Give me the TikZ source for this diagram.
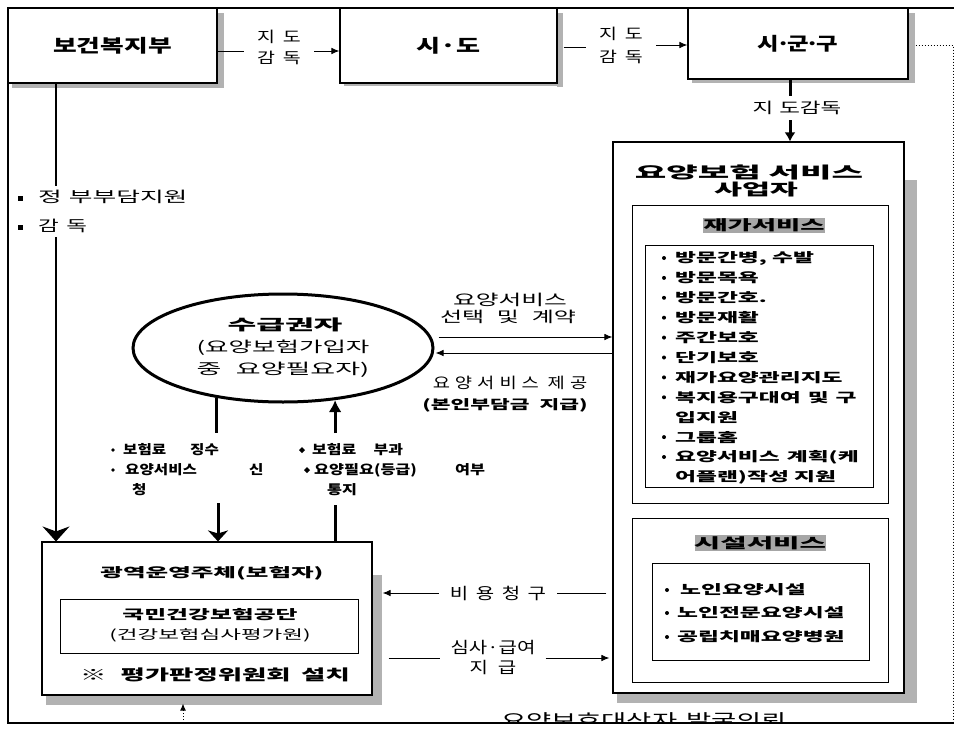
\documentclass[tikz,border=0pt]{standalone}
\usepackage{fontspec}
\usepackage{graphicx}
\setmainfont{Noto Sans CJK KR}
\usetikzlibrary{arrows.meta,shapes.geometric}
\newcommand\SX[2]{\scalebox{#1}[1]{#2}}
\newcommand\fs[2]{\fontsize{#1}{#2}\selectfont}
\newcommand\gp{\hspace{4pt}}
\newcommand\dt{\kern-2.5pt·\kern-2.5pt}
\begin{document}
\begin{tikzpicture}[x=1pt,y=-1pt,
  box/.style={draw,line width=1.1pt,fill=white,inner sep=0pt},
  ibox/.style={draw,line width=0.9pt,fill=white,inner sep=0pt},
  shad/.style={fill=black!30},
  txt/.style={inner sep=0pt,align=center},
  arr/.style={line width=0.9pt,-{Latex[length=8pt,width=6.5pt]}},
  ln/.style={line width=0.9pt},
  heavy/.style={line width=3pt},
  frame/.style={line width=1.6pt},
  item/.style={anchor=west,inner sep=0pt,font=\fs{13}{13}\bfseries},
  lab/.style={anchor=west,inner sep=0pt,font=\fs{13}{13}\bfseries}
]
\useasboundingbox (0,0) rectangle (954,736);
\fill[white] (0,0) rectangle (954,736);

% outer frame
\draw[frame] (954,8) -- (8,8) -- (8,723) -- (954,723);

% shadows
\fill[shad] (217,13) rectangle (224,88);
\fill[shad] (12,83) rectangle (224,88);
\fill[shad] (557,13) rectangle (563,87);
\fill[shad] (344,83) rectangle (563,86);
\fill[shad] (908,13) rectangle (915,83);
\fill[shad] (692,79) rectangle (915,83);
\fill[shad] (904,180) rectangle (917,703);
\fill[shad] (617,693) rectangle (917,703);
\fill[shad] (372,575) rectangle (382,705);
\fill[shad] (46,695) rectangle (382,705);

% top boxes
\node[box,minimum width=209,minimum height=75,font=\fs{18}{20}\bfseries] (bok) at (112.5,45.5) {\SX{1.43}{보건복지부}};
\node[box,minimum width=217,minimum height=75,font=\fs{18}{20}\bfseries] (sido) at (448.5,45.5) {\SX{1.45}{시·도}};
\node[box,minimum width=220,minimum height=71,font=\fs{18}{20}\bfseries] (sgg) at (798,43.5) {\SX{1.3}{시\dt 군\dt 구}};

% labels between top boxes
\node[txt,font=\fs{15}{21},inner xsep=13pt] (l1) at (279,47) {\SX{1.3}{지\hspace{6pt}도}\\\SX{1.3}{감\hspace{6pt}독}};
\draw[ln] ([yshift=-5.5pt]bok.east) -- ([yshift=-5.5pt]bok.east -| l1.west);
\draw[arr] ([yshift=-5.5pt]sido.west -| l1.east) -- ([yshift=-5.5pt]sido.west);

\node[txt,font=\fs{15}{23},inner xsep=13pt] (l2) at (621,45) {\SX{1.3}{지\hspace{6pt}도}\\\SX{1.3}{감\hspace{6pt}독}};
\draw[ln] ([xshift=6pt,yshift=-1.5pt]sido.east) -- ([yshift=-1.5pt]sido.east -| l2.west);
\draw[arr] ([yshift=-1.5pt]sgg.west -| l2.east) -- ([yshift=-1.5pt]sgg.west);

% service provider box
\node[box,minimum width=291,minimum height=551] (biz) at (758.5,417.5) {};
\node[txt,font=\fs{16}{18}\bfseries] (bizt1) at (749,172) {\SX{2.14}{요양보험 서비스}};
\node[txt,font=\fs{16}{18}\bfseries] (bizt2) at (756,190) {\SX{1.9}{사업자}};

\node[txt,font=\fs{15}{15},inner ysep=5pt] (l3) at (797,108) {\SX{1.5}{지\hspace{4pt}도감독}};
\coordinate (v3) at (790,0);
\draw[heavy] (sgg.south -| v3) -- (l3.north -| v3);
\draw[heavy,-{Latex[length=9pt,width=11pt]}] (l3.south -| v3) -- (biz.north -| v3);

% home services
\node[ibox,minimum width=256,minimum height=298] (jg) at (760,354) {};
\fill[black!35] (703,218) rectangle (825,233);
\node[txt,font=\fs{14}{14}\bfseries] (jgt) at (764,225.5) {\SX{1.88}{재가서비스}};
\node[ibox,minimum width=228,minimum height=242] (jl) at (759,366) {};
\foreach \yy in {258,277.9,297.8,317.7,337.6,357.5,377.4,397.3,437.1,457.0}
  \fill (664,\yy) circle (2);
\node[item] (j1) at (675,258) {\SX{1.75}{방문간병, 수발}};
\node[item] (j2) at (675,277.9) {\SX{1.75}{방문목욕}};
\node[item] (j3) at (675,297.8) {\SX{1.75}{방문간호.}};
\node[item] (j4) at (675,317.7) {\SX{1.75}{방문재활}};
\node[item] (j5) at (675,337.6) {\SX{1.75}{주간보호}};
\node[item] (j6) at (675,357.5) {\SX{1.75}{단기보호}};
\node[item] (j7) at (675,377.4) {\SX{1.75}{재가요양관리지도}};
\node[item] (j8) at (675,397.3) {\SX{1.75}{복지용구대여\hspace{4pt}및\hspace{4pt}구}};
\node[item] (j9) at (675,417.2) {\SX{1.75}{입지원}};
\node[item] (j10) at (675,437.1) {\SX{1.75}{그룹홈}};
\node[item] (j11) at (675,457.0) {\SX{1.75}{요양서비스\hspace{4pt}계획(케}};
\node[item] (j12) at (675,476.9) {\SX{1.75}{어플랜)작성 지원}};

% facility services
\node[ibox,minimum width=256,minimum height=164] (ss) at (760,600) {};
\fill[black!35] (695,535) rectangle (826,551);
\node[txt,font=\fs{14}{14}\bfseries] (sst) at (760,543) {\SX{2.05}{시설서비스}};
\node[ibox,minimum width=217,minimum height=97] (sl) at (760.5,611.5) {};
\foreach \yy in {590,613,637} \fill (667,\yy) circle (2);
\node[item] (s1) at (680,590) {\SX{1.75}{노인요양시설}};
\node[item] (s2) at (677,613) {\SX{1.75}{노인전문요양시설}};
\node[item] (s3) at (677,637) {\SX{1.75}{공립치매요양병원}};

% insurer box
\node[box,minimum width=330,minimum height=153] (gw) at (207,618.5) {};
\node[txt,font=\fs{13}{13}\bfseries] (gwt) at (212,573) {\SX{1.89}{광역운영주체(보험자)}};
\node[ibox,minimum width=298,minimum height=54] (nh) at (209,626) {};
\node[txt,font=\fs{13}{13}\bfseries] (nh1) at (210,615) {\SX{1.83}{국민건강보험공단}};
\node[txt,font=\fs{13}{13}] (nh2) at (210,635) {\SX{1.73}{(건강보험심사평가원)}};
\node[txt,font=\fs{15}{15}\bfseries] (gwn) at (215,675) {\SX{1.76}{※\hspace{8pt}평가판정위원회\hspace{6pt}설치}};

% ministry -> insurer
\coordinate (vl) at (56,0);
\draw[line width=1.1pt,-{Stealth[length=15pt,width=27pt,inset=5pt]}] (bok.south -| vl) -- (gw.north -| vl);
\node[anchor=north west,fill=white,inner xsep=2pt,inner ysep=4pt,align=left,font=\fs{15}{29}] (gov) at (36,186) {\SX{1.72}{정\hspace{4pt}부부담지원}\\\SX{1.5}{감\hspace{5pt}독}};
\fill (17.5,195.5) rectangle (22.5,200.5);
\fill (17.5,224.5) rectangle (22.5,229.5);

% recipient ellipse
\node[ellipse,draw,line width=3pt,fill=white,minimum width=300,minimum height=108,inner sep=0pt] (ell) at (283,348) {};
\node[txt,font=\fs{15}{15}\bfseries] (e0) at (285,325) {\SX{2.08}{수급권자}};
\node[txt,font=\fs{15}{15}] (e3) at (283,348) {\SX{1.7}{(요양보험가입자}};
\node[txt,font=\fs{15}{15}] (e4) at (283,370) {\SX{1.8}{중\hspace{8pt}요양필요자)}};

% ellipse <-> provider
\path (ell.east) ++(4,-11) coordinate (e1);
\path (ell.east) ++(1,5) coordinate (e2);
\draw[arr] (e1) -- (e1 -| biz.west);
\draw[arr] (e2 -| biz.west) -- (e2);
\node[txt,font=\fs{15}{15}] (c1) at (510,300) {\SX{1.65}{요양서비스}};
\node[txt,font=\fs{15}{15}] (c2) at (508,317) {\SX{1.6}{선택\hspace{8pt}및\hspace{8pt}계약}};
\node[txt,font=\fs{15}{15}] (c3) at (510,383) {\SX{1.25}{요\gp 양\gp 서\gp 비\gp 스\hspace{7pt}제\gp 공}};
\node[txt,font=\fs{13}{13}\bfseries] (c4) at (505,405) {\SX{1.65}{(본인부담금\hspace{6pt}지급)}};

% ellipse <-> insurer
\coordinate (a1) at (218,433);
\coordinate (a2) at (218,503);
\coordinate (b0) at (335,433);
\coordinate (b1) at (335,505);
\draw[heavy] (ell.217) -- (ell.217 |- a1);
\draw[heavy,-{Stealth[length=11pt,width=20pt,inset=3pt]}] (a2) -- (a2 |- gw.north);
\draw[heavy] (gw.north -| b1) -- (b1);
\draw[heavy,-{Latex[length=12pt,width=13pt]}] (ell.-45 |- b0) -- (ell.-45);

\fill (113,450) circle (1.8);
\fill (113,470) circle (1.8);
\node[lab] (q1) at (123,450) {\SX{1.2}{보험료\hspace{20pt}징수}};
\node[lab] (q2) at (125,470) {\SX{1.2}{요양서비스}};
\node[lab] (q3) at (249,470) {\SX{1.2}{신}};
\node[lab] (q4) at (132,490) {\SX{1.2}{청}};
\fill (299,450) -- (302,447) -- (305,450) -- (302,453) -- cycle;
\fill (304,470) -- (307,467) -- (310,470) -- (307,473) -- cycle;
\node[lab] (r1) at (312,450) {\SX{1.23}{보험료\hspace{14pt}부과}};
\node[lab] (r2) at (314,470) {\SX{1.25}{요양필요(등급)}};
\node[lab] (r3) at (455,470) {\SX{1.25}{여부}};
\node[lab] (r4) at (327,490) {\SX{1.25}{통지}};

% cost claim / payment
\node[txt,font=\fs{16}{16},inner xsep=11pt] (lb) at (498,593) {\SX{1.25}{비\hspace{6pt}용\hspace{6pt}청\hspace{6pt}구}};
\path (biz.west |- lb) ++(-6,0) coordinate (bz1);
\path (gw.east |- lb) ++(10,0) coordinate (gwe1);
\draw[ln] (bz1) -- (lb.east);
\draw[arr] (lb.west) -- (gwe1);

\node[txt,font=\fs{16}{20},inner xsep=10pt] (lsg) at (493,658) {\SX{1.25}{심사·급여}\\\SX{1.25}{지\hspace{8pt}급}};
\path (gw.east |- lsg) ++(16,0) coordinate (gwe2);
\path (biz.west |- lsg) ++(-3,0) coordinate (bz2);
\draw[ln] (gwe2) -- (lsg.west);
\draw[arr] (lsg.east) -- (bz2);

% dotted connections
\coordinate (db) at (183,723);
\path (gw.south -| db) ++(0,8) coordinate (gwb);
\draw[dotted,line width=1pt,-{Latex[length=7pt,width=6pt]}] (db) -- (gwb);
\coordinate (dr) at (953,45);
\path (sgg.east) ++(7,1.5) coordinate (sgr);
\draw[dotted,line width=1pt] (sgr) -- (dr) -- (dr |- db);

% clipped bottom text
\begin{scope}
\clip (400,700) rectangle (900,722);
\node[anchor=base,inner sep=0pt,font=\fs{18}{18}] (bt) at (644,727) {\SX{1.52}{요양보호대상자\hspace{6pt}발굴의뢰}};
\end{scope}
\end{tikzpicture}
\end{document}
